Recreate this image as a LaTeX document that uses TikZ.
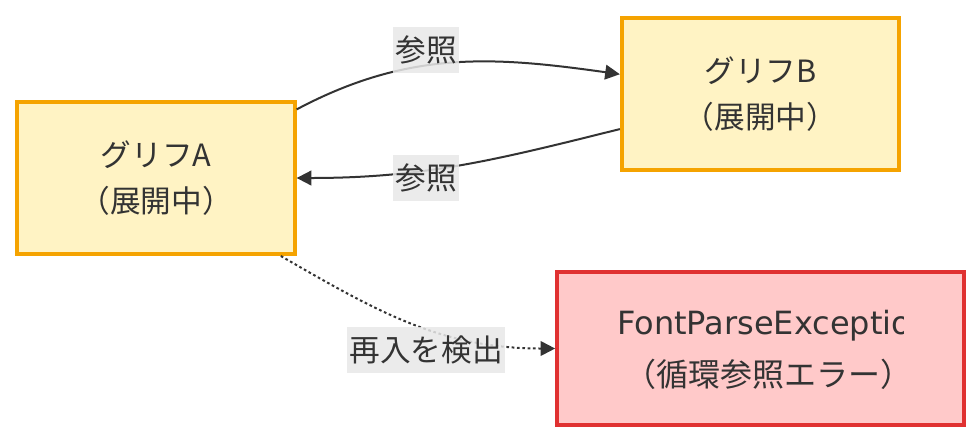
\documentclass[tikz,border=0pt]{standalone}
\usepackage{fontspec}
\setmainfont{Noto Sans CJK JP}
\newfontfamily\latinfont{DejaVu Sans}
\usetikzlibrary{arrows.meta}
\definecolor{glyphfill}{HTML}{FFF3C4}
\definecolor{glyphdraw}{HTML}{F5A300}
\definecolor{errfill}{HTML}{FFC9C9}
\definecolor{errdraw}{HTML}{E03131}
\definecolor{ink}{HTML}{333333}
\definecolor{labelbg}{HTML}{E8E8E8}

\begin{document}
\begin{tikzpicture}[x=0.75pt,y=0.75pt,
  every node/.style={text=ink,font=\fontsize{23}{35}\selectfont},
  glyph/.style={draw=glyphdraw,fill=glyphfill,line width=3pt,
    minimum width=208pt,minimum height=114pt,align=center},
  error/.style={draw=errdraw,fill=errfill,line width=3pt,
    minimum width=305pt,minimum height=115pt},
  errtext/.style={inner sep=0pt,font=\fontsize{24}{35}\selectfont},
  lbl/.style={fill=labelbg,fill opacity=0.85,text opacity=1,
    inner xsep=1.5pt,inner ysep=0pt,minimum height=35pt},
  ref/.style={draw=ink,line width=1.5pt,-{Triangle[length=11pt,width=11pt]}},
  detect/.style={ref,dash pattern=on 2pt off 2pt}
]
\useasboundingbox (0,0) rectangle (980,-444);

\node[glyph] (A) at (156,-178) {グリフA\\（展開中）};
\node[glyph] (B) at (760.5,-94) {グリフB\\（展開中）};
\node[error] (E) at (760.5,-348.5) {};
\begin{scope}
\clip (557,-272) rectangle (903,-425);
\node[errtext,anchor=west] (Ename) at (617,-326) {\latinfont FontParseException};
\node[errtext] (Ecause) at (768,-374) {（循環参照エラー）};
\end{scope}

\draw[ref] (A.26) to[out=28,in=172] (B.172);
\draw[ref] (B.194) to[out=194,in=0] (A.east);
\draw[detect] (A.-32) to[out=-30,in=180] (E.west);

\node[lbl] (l1) at (426,-50) {参照};
\node[lbl] (l2) at (426,-178) {参照};
\node[lbl] (l3) at (426,-350) {再入を検出};

\end{tikzpicture}
\end{document}
